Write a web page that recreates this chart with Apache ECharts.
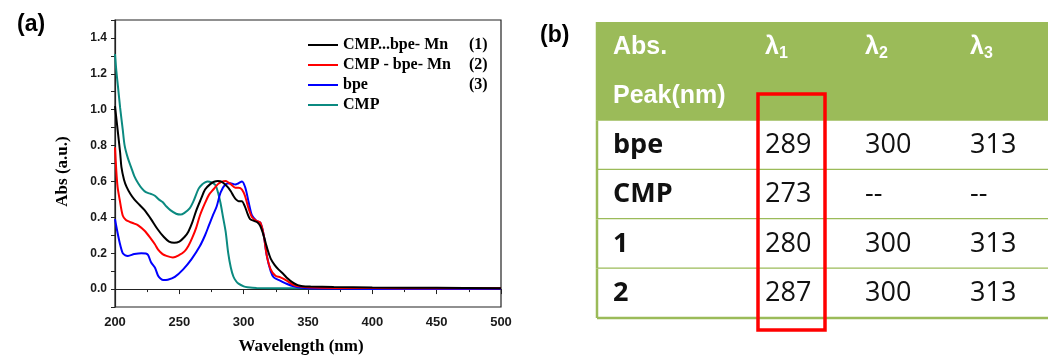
<!DOCTYPE html>
<html>
<head>
<meta charset="utf-8">
<title>UV-Vis absorption spectra and peak table</title>
<script src="https://cdn.jsdelivr.net/npm/echarts@6/dist/echarts.min.js"></script>
<style>
  html, body { margin: 0; padding: 0; background: #ffffff; }
  #chart { width: 1048px; height: 356px; }
</style>
</head>
<body>
<div id="chart"></div>
<script>
// ---- Spectra: [wavelength (nm), absorbance (a.u.)] ----
const seriesNames = ['CMP...bpe- Mn', 'CMP - bpe- Mn', 'bpe', 'CMP'];
const seriesTags = ['(1)', '(2)', '(3)', ''];

const complex1Points = [
  [200, 1.02], [202, 0.89], [204, 0.76], [205, 0.68], [207, 0.61], [209, 0.57], [212, 0.53],
  [215, 0.50], [219, 0.47], [223, 0.44], [228, 0.39], [233, 0.335], [238, 0.29], [242, 0.265],
  [246, 0.258], [250, 0.265], [254, 0.29], [257, 0.32], [260, 0.37], [263, 0.435], [267, 0.505],
  [270, 0.555], [274, 0.585], [277, 0.598], [280, 0.602], [283, 0.598], [286, 0.58], [288, 0.565],
  [290, 0.545], [292, 0.52], [294, 0.50], [296, 0.49], [298.5, 0.49], [301, 0.46], [303, 0.42],
  [305, 0.39], [308, 0.38], [311, 0.37], [313, 0.35], [315, 0.31], [317, 0.26], [319, 0.21],
  [321, 0.17], [324, 0.135], [327, 0.11], [331, 0.083], [334, 0.06], [338, 0.037], [342, 0.022],
  [346, 0.016], [352, 0.014], [370, 0.011], [400, 0.009], [450, 0.007], [500, 0.005]
];

const complex2Points = [
  [200, 0.79], [201, 0.66], [202, 0.57], [203.6, 0.50], [206, 0.41], [208.5, 0.385], [211.4, 0.375],
  [215, 0.365], [218, 0.355], [223, 0.325], [228, 0.28], [231, 0.25], [233.5, 0.22], [237, 0.195],
  [240, 0.185], [245, 0.176], [250, 0.19], [254, 0.21], [257, 0.24], [260, 0.285], [263, 0.34],
  [266, 0.41], [270, 0.48], [273, 0.525], [276.4, 0.555], [280, 0.585], [283, 0.598], [286, 0.602],
  [288, 0.595], [290, 0.585], [293.5, 0.565], [296, 0.565], [298.7, 0.555], [301, 0.52], [304, 0.445],
  [306.5, 0.40], [310, 0.38], [313, 0.37], [315.6, 0.30], [318, 0.185], [321, 0.11], [324.7, 0.074],
  [328.6, 0.065], [333.8, 0.046], [339, 0.022], [345.5, 0.013], [355, 0.009], [380, 0.006],
  [420, 0.005], [500, 0.004]
];

const bpePoints = [
  [200, 0.39], [201, 0.35], [203.6, 0.26], [206, 0.20], [208, 0.188], [210, 0.185], [215, 0.195],
  [220.5, 0.20], [224, 0.198], [225.7, 0.19], [228, 0.15], [231, 0.12], [233.5, 0.074], [235.5, 0.058],
  [237.4, 0.05], [241, 0.052], [246.5, 0.068], [253, 0.11], [259.5, 0.167], [266, 0.24], [270, 0.30],
  [273, 0.355], [276, 0.41], [279, 0.46], [282, 0.537], [285.7, 0.583], [289.6, 0.59], [293.5, 0.583],
  [296, 0.59], [298.7, 0.60], [301.3, 0.565], [304, 0.48], [306.5, 0.41], [310, 0.38], [313, 0.37],
  [315.6, 0.30], [318, 0.185], [321, 0.10], [323.4, 0.065], [328.6, 0.046], [333.8, 0.028],
  [339, 0.015], [345, 0.007], [355, 0.003], [400, 0.001], [500, 0.0]
];

const cmpPoints = [
  [200, 1.31], [201, 1.22], [202.3, 1.13], [204, 1.01], [206, 0.89], [207.5, 0.80], [210, 0.73],
  [212.5, 0.68], [215, 0.63], [218, 0.59], [221, 0.56], [224, 0.54], [228, 0.53], [231, 0.52],
  [234, 0.50], [237, 0.485], [240, 0.46], [243, 0.44], [247.5, 0.42], [251, 0.415], [254, 0.425],
  [258, 0.45], [261, 0.49], [265, 0.56], [268, 0.585], [270, 0.595], [272, 0.60], [275, 0.595],
  [278, 0.58], [280, 0.54], [282, 0.48], [284, 0.40], [286, 0.32], [288, 0.20], [290, 0.12],
  [292, 0.07], [294, 0.045], [296, 0.03], [300, 0.015], [303, 0.01], [310, 0.006], [350, 0.005],
  [400, 0.006], [500, 0.006]
];

// ---- Peak table ----
const tableHeadLines = ['Abs.', 'Peak(nm)'];
const lambdaSubscripts = ['1', '2', '3'];
const tableRowLabels = ['bpe', 'CMP', '1', '2'];
const peakLambda1 = ['289', '273', '280', '287'];
const peakLambda2 = ['300', '--', '300', '300'];
const peakLambda3 = ['313', '--', '313', '313'];

// ---- Styling ----
const SERIES_COLORS = ['#000000', '#ff0000', '#0000ff', '#0b8a80'];
const SPECTRA = [complex1Points, complex2Points, bpePoints, cmpPoints];
const TABLE_GREEN = '#9bbb59';
const TABLE_WIDTH = 451;
const TABLE_COL_EDGES = [0, 152, 252, 357];
const CELL_INSET = 16;

const axisFont = { fontFamily: 'Liberation Sans, Arial, sans-serif', fontWeight: 'bold', color: '#1a1a1a' };
const serifBold = { fontFamily: 'Liberation Serif, Times New Roman, serif', fontWeight: 'bold', color: '#000' };

// table cells: column, row (row index on the table's category axis), text, role
const tableCells = [];
tableHeadLines.forEach((t, i) => tableCells.push({ col: 0, row: i, text: t, role: 'head' }));
lambdaSubscripts.forEach((s, i) => tableCells.push({ col: i + 1, row: 0, text: '{l|λ}{s|' + s + '}', role: 'lambda' }));
tableRowLabels.forEach((label, r) => {
  tableCells.push({ col: 0, row: r + 2, text: label, role: 'rowLabel' });
  tableCells.push({ col: 1, row: r + 2, text: peakLambda1[r], role: 'value' });
  tableCells.push({ col: 2, row: r + 2, text: peakLambda2[r], role: 'value' });
  tableCells.push({ col: 3, row: r + 2, text: peakLambda3[r], role: 'value' });
});

// table bands: [first row, last row, is header]
const tableBands = [[0, 1, 1]];
tableRowLabels.forEach((_, r) => tableBands.push([r + 2, r + 2, 0]));

function renderBand(params, api) {
  const first = api.value(0), last = api.value(1), head = api.value(2);
  const h = api.size([0, 1])[1];
  const top = api.coord([0, first])[1] - h / 2;
  const bottom = api.coord([0, last])[1] + h / 2;
  const left = api.coord([0, first])[0];
  const right = api.coord([TABLE_WIDTH, first])[0];
  return {
    type: 'group',
    children: [
      { type: 'rect', shape: { x: left, y: top, width: right - left, height: bottom - top },
        style: { fill: head ? TABLE_GREEN : '#ffffff' } },
      { type: 'line', shape: { x1: left, y1: bottom, x2: right, y2: bottom },
        style: { stroke: TABLE_GREEN, lineWidth: 2.5 } },
      { type: 'line', shape: { x1: left, y1: top, x2: left, y2: bottom },
        style: { stroke: TABLE_GREEN, lineWidth: 2.5 } }
    ]
  };
}

function renderCell(params, api) {
  const cell = tableCells[params.dataIndex];
  const pt = api.coord([TABLE_COL_EDGES[api.value(0)] + CELL_INSET, api.value(1)]);
  let style;
  if (cell.role === 'head') {
    style = { fill: '#ffffff', fontFamily: 'Liberation Sans, Arial, sans-serif', fontWeight: 'bold', fontSize: 25 };
  } else if (cell.role === 'lambda') {
    style = {
      fill: '#ffffff', fontFamily: 'Liberation Sans, Arial, sans-serif', fontWeight: 'bold', fontSize: 25,
      rich: {
        l: { fill: '#ffffff', fontFamily: 'Liberation Sans, Arial, sans-serif', fontWeight: 'bold', fontSize: 25, lineHeight: 30 },
        s: { fill: '#ffffff', fontFamily: 'Liberation Sans, Arial, sans-serif', fontWeight: 'bold', fontSize: 16, lineHeight: 30, verticalAlign: 'bottom', padding: [8, 0, 0, 0] }
      }
    };
  } else {
    style = { fill: '#111111', fontFamily: 'Open Sans, Noto Sans, sans-serif', fontSize: 27,
      fontWeight: cell.role === 'rowLabel' ? 'bold' : 'normal' };
  }
  style.text = cell.text;
  style.align = 'left';
  style.verticalAlign = 'middle';
  return { type: 'text', x: pt[0], y: pt[1], style: style };
}

function renderHighlight(params, api) {
  const col = api.value(0);
  const h = api.size([0, 1])[1];
  const x0 = api.coord([TABLE_COL_EDGES[col] + 9, api.value(1)])[0];
  const x1 = api.coord([TABLE_COL_EDGES[col] + 76, api.value(1)])[0];
  const y0 = api.coord([0, api.value(1)])[1] - 2;
  const y1 = api.coord([0, tableRowLabels.length + 1])[1] + h / 2 + 12;
  return {
    type: 'rect',
    shape: { x: x0, y: y0, width: x1 - x0, height: y1 - y0 },
    style: { fill: 'none', stroke: '#ff0000', lineWidth: 3.5 }
  };
}

const lineSeries = SPECTRA.map((pts, i) => ({
  name: seriesNames[i],
  type: 'line',
  xAxisIndex: 0,
  yAxisIndex: 0,
  data: pts,
  symbol: 'none',
  showSymbol: false,
  smooth: 0.3,
  z: 4 - i,
  lineStyle: { color: SERIES_COLORS[i], width: 2 },
  itemStyle: { color: SERIES_COLORS[i] }
}));

const option = {
  animation: false,
  backgroundColor: '#ffffff',
  title: [
    { text: '(a)', left: 12, top: 8, textStyle: { fontFamily: 'Liberation Sans, Arial, sans-serif', fontWeight: 'bold', fontSize: 23, color: '#000' } },
    { text: '(b)', left: 535, top: 19, textStyle: { fontFamily: 'Liberation Sans, Arial, sans-serif', fontWeight: 'bold', fontSize: 23, color: '#000' } }
  ],
  legend: {
    data: seriesNames,
    orient: 'vertical',
    left: 308,
    top: 37,
    padding: 0,
    icon: 'rect',
    itemWidth: 30,
    itemHeight: 2,
    itemGap: 4,
    formatter: name => {
      const tag = seriesTags[seriesNames.indexOf(name)];
      return '{n|' + name + '}' + (tag ? '{t|' + tag + '}' : '');
    },
    textStyle: Object.assign({ fontSize: 16, lineHeight: 15 }, serifBold, {
      rich: {
        n: Object.assign({ fontSize: 16, lineHeight: 15, width: 126 }, serifBold),
        t: Object.assign({ fontSize: 16, lineHeight: 15 }, serifBold)
      }
    })
  },
  grid: [
    { left: 115, top: 20, width: 386, height: 287, outerBoundsMode: 'none', containLabel: false,
      show: true, borderColor: '#222', borderWidth: 1.2, backgroundColor: 'transparent' },
    { left: 597, top: 22, width: TABLE_WIDTH, height: 296, outerBoundsMode: 'none', containLabel: false }
  ],
  xAxis: [
    {
      gridIndex: 0, type: 'value', min: 200, max: 500, interval: 50,
      name: 'Wavelength (nm)', nameLocation: 'middle', nameGap: 31,
      nameTextStyle: Object.assign({ fontSize: 17, padding: [0, 14, 0, 0] }, serifBold),
      axisLine: { show: true, lineStyle: { color: '#222', width: 1.2 } },
      axisTick: { show: true, length: 5, lineStyle: { color: '#222' } },
      minorTick: { show: true, splitNumber: 2, length: 3, lineStyle: { color: '#222' } },
      splitLine: { show: false },
      axisLabel: Object.assign({ fontSize: 13, margin: 9 }, axisFont)
    },
    { gridIndex: 1, type: 'value', min: 0, max: TABLE_WIDTH, show: false }
  ],
  yAxis: [
    {
      gridIndex: 0, type: 'value', min: -0.1, max: 1.5, interval: 0.1,
      name: 'Abs (a.u.)', nameLocation: 'middle', nameGap: 44, nameRotate: 90,
      nameTextStyle: Object.assign({ fontSize: 17, padding: [0, 16, 0, 0] }, serifBold),
      axisLine: { show: true, lineStyle: { color: '#222', width: 1.2 } },
      axisTick: { show: true, length: 4, lineStyle: { color: '#222' } },
      splitLine: { show: false },
      axisLabel: Object.assign({
        fontSize: 12, margin: 8,
        formatter: v => {
          const tenths = Math.round(v * 10);
          return (tenths >= 0 && tenths % 2 === 0) ? (tenths / 10).toFixed(1) : '';
        }
      }, axisFont)
    },
    { gridIndex: 1, type: 'category', inverse: true, data: tableHeadLines.concat(tableRowLabels), show: false }
  ],
  series: lineSeries.concat([
    {
      type: 'custom', name: 'tableBands', xAxisIndex: 1, yAxisIndex: 1, z: 1,
      renderItem: renderBand, data: tableBands, silent: true
    },
    {
      type: 'custom', name: 'tableCells', xAxisIndex: 1, yAxisIndex: 1, z: 3,
      renderItem: renderCell, data: tableCells.map(c => [c.col, c.row]), silent: true
    },
    {
      type: 'custom', name: 'lambda1Highlight', xAxisIndex: 1, yAxisIndex: 1, z: 4,
      renderItem: renderHighlight, data: [[1, 1]], silent: true
    }
  ])
};

const chart = echarts.init(document.getElementById('chart'), null, { renderer: 'canvas' });
chart.setOption(option);
</script>
</body>
</html>
